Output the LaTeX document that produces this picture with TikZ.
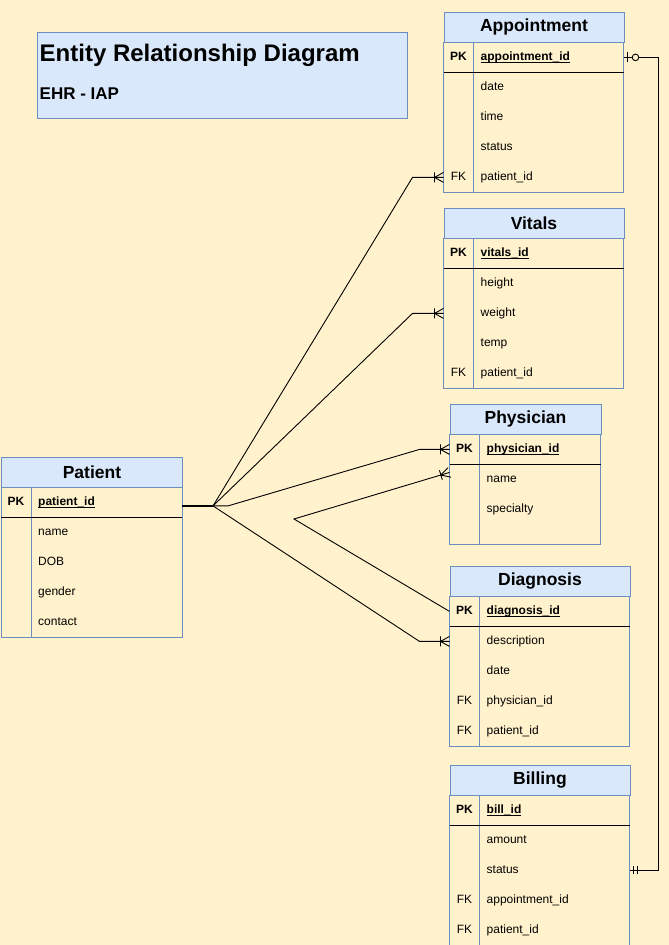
\documentclass[tikz,border=0pt]{standalone}
\usepackage{fontspec}
\setmainfont{Liberation Sans}
\usetikzlibrary{calc}
\definecolor{bgyellow}{HTML}{FFF2CC}
\definecolor{headblue}{HTML}{DAE8FC}
\definecolor{edgeblue}{HTML}{6C8EBF}
\newcommand{\pkname}[1]{\setbox0=\hbox{#1}\rlap{\rule[-2pt]{\wd0}{0.9pt}}\box0}
\newcommand{\erentity}[8]{%
  \node[enthead, minimum width=#4] (#1) at (#2,#3) {#6};
  \draw[entbox] (#1.south west) rectangle ++(#4,#5);
  \draw[entbox] ($(#1.south west)+(30,0)$) -- ++(0,#5);
  \draw[pkline] ($(#1.south west)+(0,30)$) -- ++(#4,0);
  \node[keytxt, font=\bfseries\fontsize{12}{14}\selectfont] (#1-k1) at ($(#1.south west)+(15,15)$) {PK};
  \node[fldtxt] (#1-f1) at ($(#1.south west)+(37,15)$) {\pkname{\bfseries #7}};
  \coordinate (#1-w1) at ($(#1.south west)+(0,15)$);
  \coordinate (#1-e1) at ($(#1.south west)+(#4,15)$);
  \foreach \k/\f [count=\i from 2] in {#8} {
    \node[keytxt] (#1-k\i) at ($(#1.south west)+(15,30*\i-15)$) {\k};
    \node[fldtxt] (#1-f\i) at ($(#1.south west)+(37,30*\i-15)$) {\f};
    \coordinate (#1-w\i) at ($(#1.south west)+(0,30*\i-15)$);
    \coordinate (#1-e\i) at ($(#1.south west)+(#4,30*\i-15)$);
  }
}
\tikzset{
  enthead/.style={draw=edgeblue, fill=headblue, line width=0.9pt, inner sep=0pt,
    minimum height=30pt, anchor=north west, font=\bfseries\fontsize{17.5}{20}\selectfont},
  entbox/.style={draw=edgeblue, line width=0.9pt},
  pkline/.style={draw=black, line width=1pt},
  keytxt/.style={inner sep=0pt, text height=7pt, text depth=0pt, font=\fontsize{12}{14}\selectfont},
  fldtxt/.style={keytxt, anchor=west},
  rel/.style={draw=black, line width=0.9pt},
  crowfoot/.pic={\draw[rel] (-9,-5) -- (-9,5) (0,-5) -- (-9,0) -- (0,5);},
  zeroone/.pic={\draw[rel] (-4,-5) -- (-4,5); \draw[rel, fill=bgyellow] (-12,0) circle (3.3);},
  mandone/.pic={\draw[rel] (-4,-4) -- (-4,4) (-8,-4) -- (-8,4);}
}
\begin{document}
\begin{tikzpicture}[x=1pt, y=-1pt]
  \useasboundingbox (0,0) rectangle (669,945);
  \fill[bgyellow] (0,0) rectangle (669,945);
  \node[draw=edgeblue, fill=headblue, line width=0.9pt, minimum width=370, minimum height=86, anchor=north west] (ttl) at (37,32) {};
  \node[anchor=base west, inner sep=0pt, font=\bfseries\fontsize{24}{28}\selectfont] (ttl-main) at (39.5,61) {Entity Relationship Diagram};
  \node[anchor=base west, inner sep=0pt, font=\bfseries\fontsize{17}{20}\selectfont] (ttl-sub) at (39.5,99) {EHR - IAP};
  \erentity{app}{443.5}{11.5}{180}{150}{Appointment}{appointment\_id}{/date,/time,/status,FK/patient\_id}
  \erentity{vit}{443.5}{207.5}{180}{150}{Vitals}{vitals\_id}{/height,/weight,/temp,FK/patient\_id}
  \erentity{phy}{449.5}{403.5}{151}{110}{Physician}{physician\_id}{/name,/specialty}
  \erentity{dia}{449.5}{565.5}{180}{150}{Diagnosis}{diagnosis\_id}{/description,/date,FK/physician\_id,FK/patient\_id}
  \erentity{bil}{449.5}{764.5}{180}{150}{Billing}{bill\_id}{/amount,/status,FK/appointment\_id,FK/patient\_id}
  \erentity{pat}{1}{456.5}{181}{150}{Patient}{patient\_id}{/name,/DOB,/gender,/contact}
  % relations
  \coordinate (pat-out) at ([yshift=-3.5pt]pat-e1);
  \coordinate (hub) at ($(pat-out)+(31,0)$);
  \coordinate (bend) at (294,519);
  \coordinate (phy-in) at ([yshift=7pt]phy-w2);
  \draw[rel, line width=2.5pt] (pat-out) -- (hub);
  \draw[rel] (hub) -- ([xshift=-31pt]app-w5) -- (app-w5);
  \draw[rel] (hub) -- ([xshift=-31pt]vit-w3) -- (vit-w3);
  \draw[rel] (hub) -- ++(15,0) -- ([xshift=-30pt]phy-w1) -- (phy-w1);
  \draw[rel] (hub) -- ([xshift=-30pt]dia-w2) -- (dia-w2);
  \draw[rel] (dia-w1) -- (bend) -- (phy-in);
  \draw[rel] (app-e1) -- ++(35,0) |- (bil-e3);
  \pic at (app-w5) {crowfoot};
  \pic at (vit-w3) {crowfoot};
  \pic at (phy-w1) {crowfoot};
  \pic at (dia-w2) {crowfoot};
  \pic[rotate=16.8] at (phy-in) {crowfoot};
  \pic[rotate=180] at (app-e1) {zeroone};
  \pic[rotate=180] at (bil-e3) {mandone};
\end{tikzpicture}
\end{document}
